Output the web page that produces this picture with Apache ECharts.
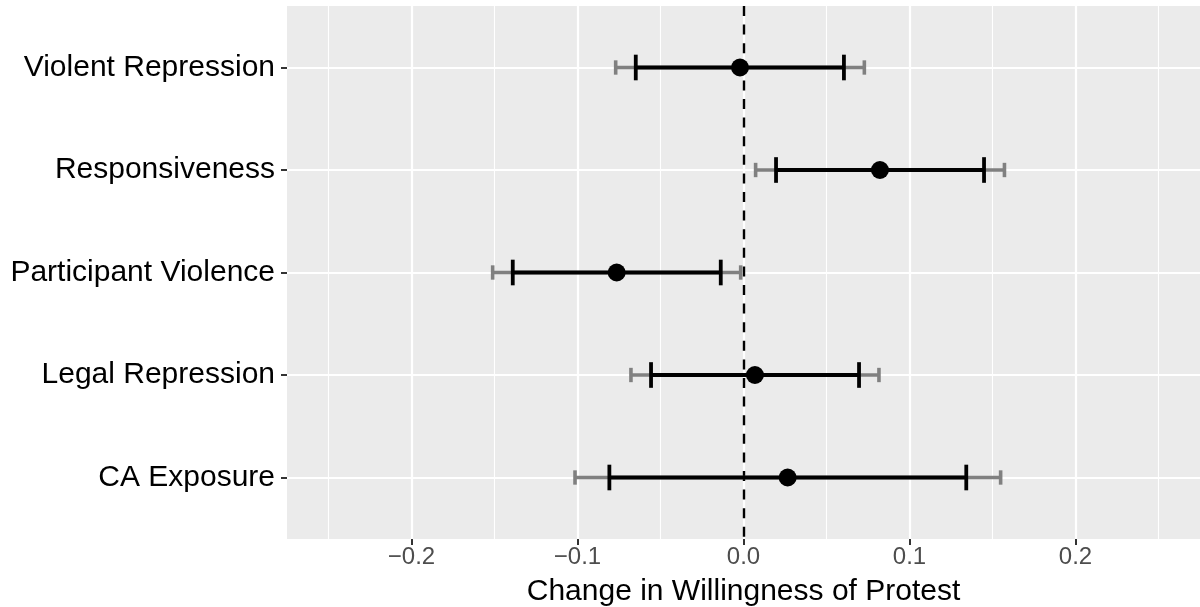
<!DOCTYPE html>
<html>
<head>
<meta charset="utf-8">
<title>Change in Willingness of Protest</title>
<script src="https://cdn.jsdelivr.net/npm/echarts@6/dist/echarts.min.js"></script>
<style>
  html, body { margin: 0; padding: 0; background: #fff; }
  #chart { width: 1200px; height: 607px; }
</style>
</head>
<body>
<div id="chart"></div>
<script>
// categories, top to bottom
var categories = ['Violent Repression', 'Responsiveness', 'Participant Violence', 'Legal Repression', 'CA Exposure'];

// point estimates
var estimate = [-0.0021, 0.0822, -0.0764, 0.0069, 0.0266];

// 95% interval (grey)
var ci95Low  = [-0.0770, 0.0073, -0.1511, -0.0678, -0.1015];
var ci95High = [ 0.0728, 0.1572, -0.0017,  0.0816,  0.1549];

// 90% interval (black)
var ci90Low  = [-0.0649, 0.0196, -0.1390, -0.0557, -0.0808];
var ci90High = [ 0.0605, 0.1449, -0.0137,  0.0696,  0.1342];

// axis ticks and grid lines
var xTicks = [-0.2, -0.1, 0.0, 0.1, 0.2];
var xMinor = [-0.25, -0.15, -0.05, 0.05, 0.15, 0.25];
var yTicks = [1, 2, 3, 4, 5];

var FONT = 'Liberation Sans, Arial, Helvetica, sans-serif';

function rows(lo, hi) {
  return categories.map(function (c, i) { return [i + 1, lo[i], hi[i]]; });
}

// draws a horizontal error bar with caps; capWidth is in category units
function errorBar(color, capWidth, lw) {
  return function (params, api) {
    var y = api.value(0);
    var a = api.coord([api.value(1), y]);
    var b = api.coord([api.value(2), y]);
    var h = api.size([0, capWidth])[1] / 2;
    var st = { stroke: color, lineWidth: lw, lineCap: 'butt', fill: null };
    return {
      type: 'group',
      children: [
        { type: 'line', shape: { x1: a[0], y1: a[1], x2: b[0], y2: b[1] }, style: st },
        { type: 'line', shape: { x1: a[0], y1: a[1] - h, x2: a[0], y2: a[1] + h }, style: st },
        { type: 'line', shape: { x1: b[0], y1: b[1] - h, x2: b[0], y2: b[1] + h }, style: st }
      ]
    };
  };
}

var gridLines = [];
xMinor.forEach(function (v) {
  gridLines.push({ xAxis: v, lineStyle: { color: '#fff', width: 1.1, type: 'solid' } });
});
xTicks.forEach(function (v) {
  gridLines.push({ xAxis: v, lineStyle: { color: '#fff', width: 2.2, type: 'solid' } });
});
yTicks.forEach(function (v) {
  gridLines.push({ yAxis: v, lineStyle: { color: '#fff', width: 2.2, type: 'solid' } });
});

var chart = echarts.init(document.getElementById('chart'));

var option = {
  animation: false,
  grid: {
    left: 287, right: 0, top: 6, bottom: 68,
    outerBoundsMode: 'none',
    containLabel: false,
    show: true, backgroundColor: '#EBEBEB', borderWidth: 0
  },
  xAxis: {
    type: 'value',
    position: 'bottom',
    min: -0.275,
    max: 0.275,
    axisLine: { show: true, onZero: false, lineStyle: { color: 'rgba(0,0,0,0)', width: 0 } },
    splitLine: { show: false },
    axisTick: {
      show: true, inside: false, customValues: xTicks, length: 6,
      lineStyle: { color: '#333', width: 2 }
    },
    axisLabel: {
      customValues: xTicks,
      margin: 6,
      color: '#4D4D4D',
      fontSize: 24,
      fontFamily: FONT,
      formatter: function (v) { return v.toFixed(1).replace('-', '\u2212'); }
    },
    name: 'Change in Willingness of Protest',
    nameLocation: 'middle',
    nameGap: 38,
    nameTextStyle: { color: '#000', fontSize: 30, fontFamily: FONT }
  },
  yAxis: {
    type: 'value',
    position: 'left',
    inverse: true,
    min: 0.4,
    max: 5.6,
    axisLine: { show: true, onZero: false, lineStyle: { color: 'rgba(0,0,0,0)', width: 0 } },
    splitLine: { show: false },
    axisTick: {
      show: true, inside: false, customValues: yTicks, length: 6,
      lineStyle: { color: '#333', width: 2 }
    },
    axisLabel: {
      customValues: yTicks,
      margin: 12,
      color: '#000',
      fontSize: 30,
      fontFamily: FONT,
      formatter: function (v) { return categories[Math.round(v) - 1]; }
    }
  },
  series: [
    {
      name: 'grid',
      type: 'line',
      data: [],
      z: 1,
      markLine: {
        z: 1,
        silent: true, symbol: ['none', 'none'], label: { show: false },
        animation: false, data: gridLines
      }
    },
    {
      name: 'zero',
      type: 'line',
      data: [],
      z: 2,
      markLine: {
        z: 2,
        silent: true, symbol: ['none', 'none'], label: { show: false },
        animation: false,
        data: [{ xAxis: 0, lineStyle: { color: '#000', width: 2.4, type: [10, 8.6] } }]
      }
    },
    {
      name: '95%',
      type: 'custom',
      z: 3,
      renderItem: errorBar('#808080', 0.14, 3.6),
      encode: { x: [1, 2], y: 0 },
      data: rows(ci95Low, ci95High)
    },
    {
      name: '90%',
      type: 'custom',
      z: 4,
      renderItem: errorBar('#000', 0.25, 3.8),
      encode: { x: [1, 2], y: 0 },
      data: rows(ci90Low, ci90High)
    },
    {
      name: 'estimate',
      type: 'scatter',
      z: 5,
      symbol: 'circle',
      symbolSize: 18,
      itemStyle: { color: '#000', opacity: 1 },
      data: estimate.map(function (v, i) { return [v, i + 1]; })
    }
  ]
};

chart.setOption(option);
</script>
</body>
</html>
